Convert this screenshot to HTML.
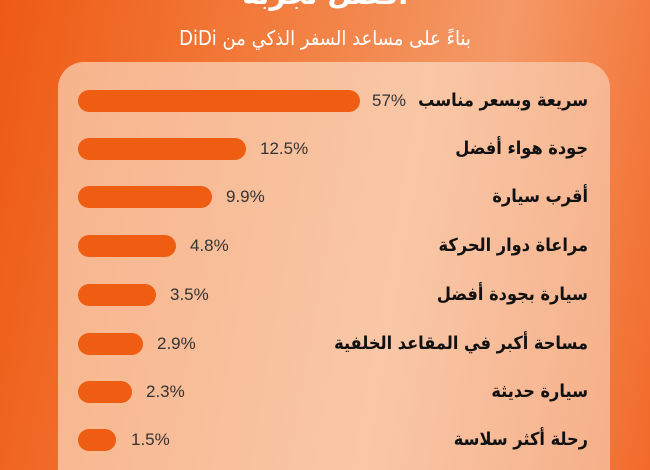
<!DOCTYPE html>
<html><head><meta charset="utf-8"><style>
html,body{margin:0;padding:0;width:650px;height:470px;overflow:hidden}
body{position:relative;background:linear-gradient(100deg,#ee5a14 0%,#f27a3a 35%,#f49a68 70%,#f26a2a 100%);font-family:"DejaVu Sans",sans-serif}
.top{position:absolute;left:0;right:0;top:-22px;text-align:center;color:#fff;font-weight:bold;font-size:28px}
.sub{position:absolute;left:0;right:0;top:26px;text-align:center;color:#fff;font-size:20px;direction:rtl;font-family:"DejaVu Sans Condensed","DejaVu Sans",sans-serif}
.panel{position:absolute;left:58px;top:62px;width:552px;height:408px;border-radius:26px 26px 0 0;background:linear-gradient(100deg,#f7b48c,#f9c7a6 60%,#f6b08a)}
.bar{position:absolute;left:78px;height:22px;border-radius:11px;background:#ee5d12}
.pct{position:absolute;font-family:"Liberation Sans",sans-serif;font-size:17px;color:#333;line-height:22px}
.lab{position:absolute;right:62px;font-weight:bold;font-size:18px;color:#111;direction:rtl;line-height:22px;white-space:nowrap;font-family:"DejaVu Sans Condensed","DejaVu Sans",sans-serif}
</style></head><body>
<div class="top">أفضل تجربة</div>
<div class="sub">بناءً على مساعد السفر الذكي من DiDi</div>
<div class="panel"></div>

<div class="bar" style="top:90px;width:282px"></div><div class="pct" style="top:90px;left:372px">57%</div><div class="lab" style="top:90px">سريعة وبسعر مناسب</div>
<div class="bar" style="top:138px;width:168px"></div><div class="pct" style="top:138px;left:260px">12.5%</div><div class="lab" style="top:138px">جودة هواء أفضل</div>
<div class="bar" style="top:186px;width:134px"></div><div class="pct" style="top:186px;left:226px">9.9%</div><div class="lab" style="top:186px">أقرب سيارة</div>
<div class="bar" style="top:235px;width:98px"></div><div class="pct" style="top:235px;left:190px">4.8%</div><div class="lab" style="top:235px">مراعاة دوار الحركة</div>
<div class="bar" style="top:284px;width:78px"></div><div class="pct" style="top:284px;left:170px">3.5%</div><div class="lab" style="top:284px">سيارة بجودة أفضل</div>
<div class="bar" style="top:333px;width:65px"></div><div class="pct" style="top:333px;left:157px">2.9%</div><div class="lab" style="top:333px">مساحة أكبر في المقاعد الخلفية</div>
<div class="bar" style="top:381px;width:54px"></div><div class="pct" style="top:381px;left:146px">2.3%</div><div class="lab" style="top:381px">سيارة حديثة</div>
<div class="bar" style="top:429px;width:38px"></div><div class="pct" style="top:429px;left:131px">1.5%</div><div class="lab" style="top:429px">رحلة أكثر سلاسة</div>
</body></html>
